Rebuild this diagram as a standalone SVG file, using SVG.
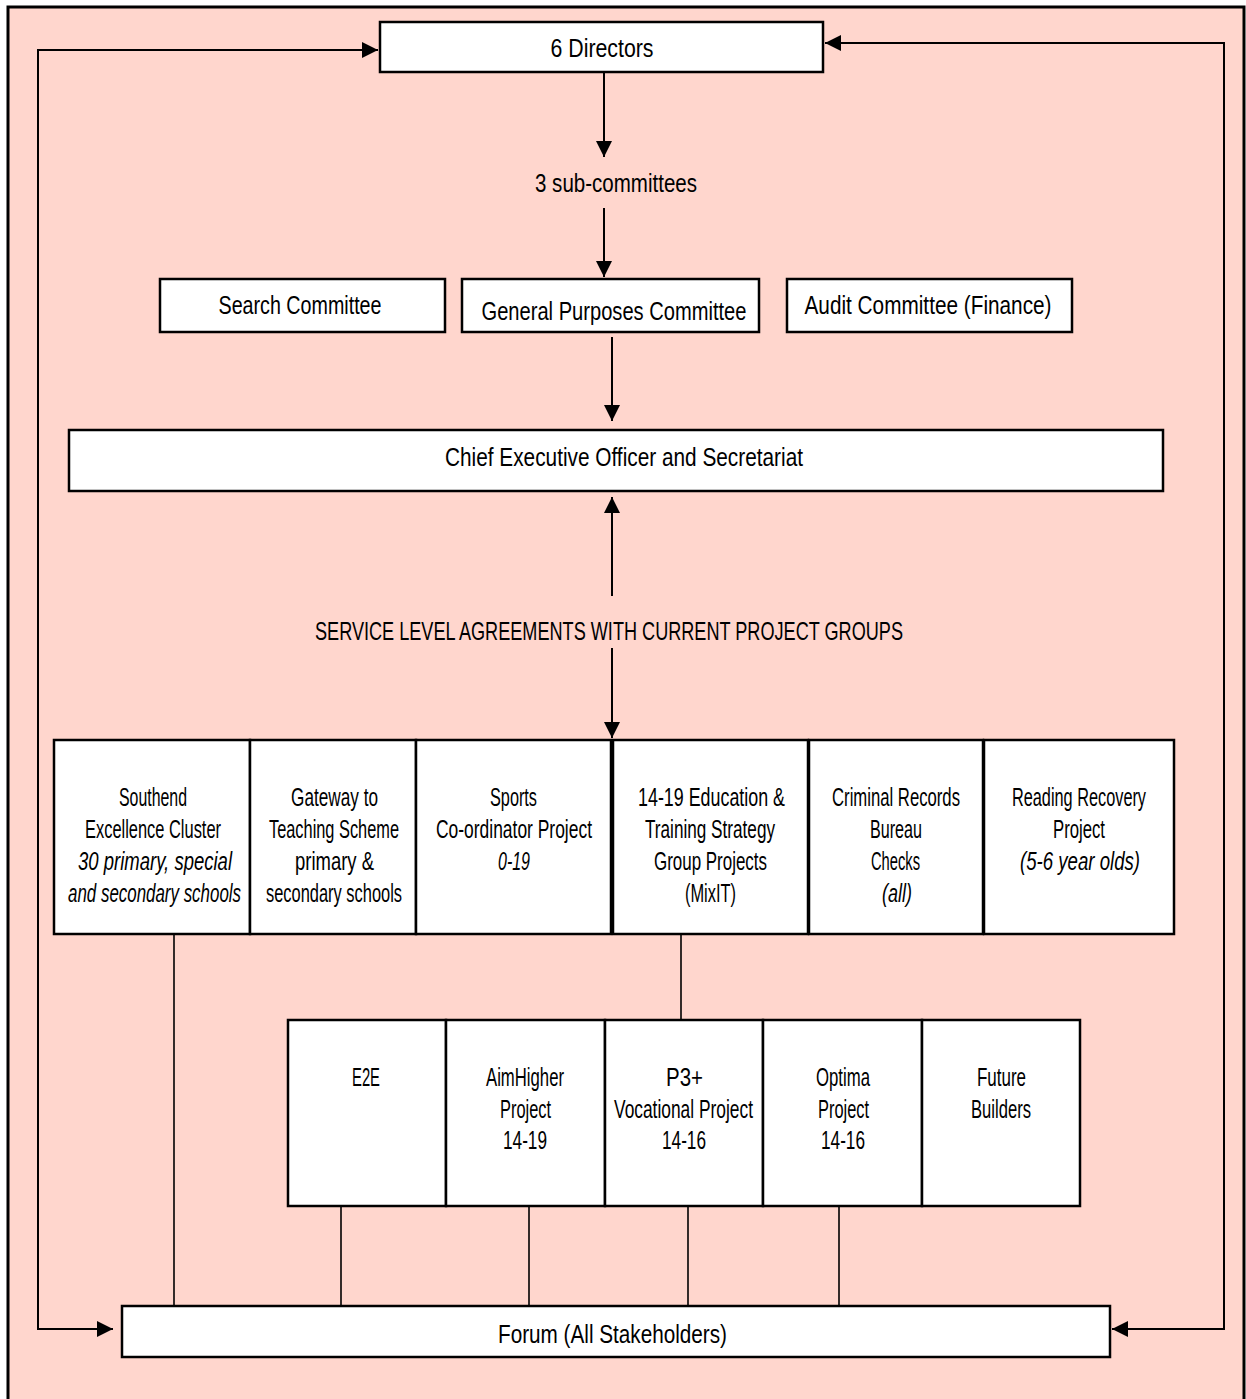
<svg xmlns="http://www.w3.org/2000/svg" width="1246" height="1399" viewBox="0 0 1246 1399">
<style>
.frame{fill:#FFD6CD;stroke:#000;stroke-width:3}
.box{fill:#fff;stroke:#000;stroke-width:2.5}
.cell{fill:#fff;stroke:#000;stroke-width:2.5}
.t{font-family:"Liberation Sans",Arial,sans-serif;font-size:26px;text-anchor:middle;fill:#000}
.i{font-style:italic}
.c{stroke:#000;stroke-width:2;fill:none}
.c2{stroke:#000;stroke-width:1.6;fill:none}
</style>
<defs>
<marker id="ah" markerUnits="userSpaceOnUse" markerWidth="16" markerHeight="16" viewBox="0 0 16 16" refX="16" refY="8" orient="auto">
<path d="M0,0 L16,8 L0,16 Z" fill="#000"/>
</marker>
</defs>
<rect x="0" y="0" width="1246" height="1399" fill="#fff"/>
<rect class="frame" x="8" y="7" width="1236" height="1400"/>

<g id="connectors">
<line class="c" x1="604" y1="72" x2="604" y2="157" marker-end="url(#ah)"/>
<line class="c" x1="604" y1="208" x2="604" y2="277" marker-end="url(#ah)"/>
<line class="c" x1="612" y1="337" x2="612" y2="421" marker-end="url(#ah)"/>
<line class="c" x1="612" y1="596" x2="612" y2="497" marker-end="url(#ah)"/>
<line class="c" x1="612" y1="648" x2="612" y2="738" marker-end="url(#ah)"/>
<polyline class="c" points="113,1329 38,1329 38,50 378,50" marker-end="url(#ah)"/>
<polyline class="c" points="1112,1329 1224,1329 1224,43 825,43" marker-end="url(#ah)"/>
<path d="M97,1321 L113,1329 L97,1337 Z" fill="#000"/>
<path d="M1128,1321 L1112,1329 L1128,1337 Z" fill="#000"/>
<line class="c2" x1="174" y1="934" x2="174" y2="1306"/>
<line class="c2" x1="681" y1="934" x2="681" y2="1020"/>
<line class="c2" x1="341" y1="1206" x2="341" y2="1306"/>
<line class="c2" x1="529" y1="1206" x2="529" y2="1306"/>
<line class="c2" x1="688" y1="1206" x2="688" y2="1306"/>
<line class="c2" x1="839" y1="1206" x2="839" y2="1306"/>
</g>

<g id="directors">
<rect class="box" x="380" y="22" width="443" height="50"/>
<text class="t" x="602" y="57" textLength="103" lengthAdjust="spacingAndGlyphs">6 Directors</text>
</g>

<g id="subcommittees">
<text class="t" x="616" y="192" textLength="162" lengthAdjust="spacingAndGlyphs">3 sub-committees</text>
</g>

<g id="search">
<rect class="box" x="160" y="279" width="285" height="53"/>
<text class="t" x="300" y="314" textLength="163" lengthAdjust="spacingAndGlyphs">Search Committee</text>
</g>

<g id="general">
<rect class="box" x="462" y="279" width="297" height="53"/>
<text class="t" x="614" y="320" textLength="265" lengthAdjust="spacingAndGlyphs">General Purposes Committee</text>
</g>

<g id="audit">
<rect class="box" x="787" y="279" width="285" height="53"/>
<text class="t" x="928" y="314" textLength="247" lengthAdjust="spacingAndGlyphs">Audit Committee (Finance)</text>
</g>

<g id="ceo">
<rect class="box" x="69" y="430" width="1094" height="61"/>
<text class="t" x="624" y="466" textLength="358" lengthAdjust="spacingAndGlyphs">Chief Executive Officer and Secretariat</text>
</g>

<g id="sla">
<text class="t" x="609" y="640" textLength="588" lengthAdjust="spacingAndGlyphs">SERVICE LEVEL AGREEMENTS WITH CURRENT PROJECT GROUPS</text>
</g>

<g id="southend">
<rect class="cell" x="54" y="740" width="196" height="194"/>
<text class="t" transform="translate(153,806) scale(0.68,1)" textLength="100" lengthAdjust="spacingAndGlyphs">Southend</text>
<text class="t" transform="translate(153,838) scale(0.68,1)" textLength="200" lengthAdjust="spacingAndGlyphs">Excellence Cluster</text>
<text class="t i" transform="translate(155,870) scale(0.68,1)" textLength="226.5" lengthAdjust="spacingAndGlyphs">30 primary, special</text>
<text class="t i" transform="translate(154.5,902) scale(0.68,1)" textLength="254.4" lengthAdjust="spacingAndGlyphs">and secondary schools</text>
</g>

<g id="gateway">
<rect class="cell" x="250" y="740" width="166" height="194"/>
<text class="t" transform="translate(334.5,806) scale(0.68,1)" textLength="127.9" lengthAdjust="spacingAndGlyphs">Gateway to</text>
<text class="t" transform="translate(334,838) scale(0.68,1)" textLength="191.2" lengthAdjust="spacingAndGlyphs">Teaching Scheme</text>
<text class="t" transform="translate(334.5,870) scale(0.68,1)" textLength="116.2" lengthAdjust="spacingAndGlyphs">primary &amp;</text>
<text class="t" transform="translate(334,902) scale(0.68,1)" textLength="200" lengthAdjust="spacingAndGlyphs">secondary schools</text>
</g>

<g id="sports">
<rect class="cell" x="416" y="740" width="195" height="194"/>
<text class="t" transform="translate(513.5,806) scale(0.68,1)" textLength="69.1" lengthAdjust="spacingAndGlyphs">Sports</text>
<text class="t" transform="translate(514,838) scale(0.68,1)" textLength="229.4" lengthAdjust="spacingAndGlyphs">Co-ordinator Project</text>
<text class="t i" transform="translate(514,870) scale(0.68,1)" textLength="47.1" lengthAdjust="spacingAndGlyphs">0-19</text>
</g>

<g id="education1419">
<rect class="cell" x="613" y="740" width="195" height="194"/>
<text class="t" transform="translate(711.5,806) scale(0.68,1)" textLength="216.2" lengthAdjust="spacingAndGlyphs">14-19 Education &amp;</text>
<text class="t" transform="translate(710,838) scale(0.68,1)" textLength="191.2" lengthAdjust="spacingAndGlyphs">Training Strategy</text>
<text class="t" transform="translate(710.5,870) scale(0.68,1)" textLength="166.2" lengthAdjust="spacingAndGlyphs">Group Projects</text>
<text class="t" transform="translate(710.5,902) scale(0.68,1)" textLength="75" lengthAdjust="spacingAndGlyphs">(MixIT)</text>
</g>

<g id="criminal">
<rect class="cell" x="809" y="740" width="174" height="194"/>
<text class="t" transform="translate(896,806) scale(0.68,1)" textLength="188.2" lengthAdjust="spacingAndGlyphs">Criminal Records</text>
<text class="t" transform="translate(896,838) scale(0.68,1)" textLength="76.5" lengthAdjust="spacingAndGlyphs">Bureau</text>
<text class="t" transform="translate(895.5,870) scale(0.68,1)" textLength="72.1" lengthAdjust="spacingAndGlyphs">Checks</text>
<text class="t i" transform="translate(897,902) scale(0.68,1)" textLength="44.1" lengthAdjust="spacingAndGlyphs">(all)</text>
</g>

<g id="reading">
<rect class="cell" x="984" y="740" width="190" height="194"/>
<text class="t" transform="translate(1079,806) scale(0.68,1)" textLength="197.1" lengthAdjust="spacingAndGlyphs">Reading Recovery</text>
<text class="t" transform="translate(1079,838) scale(0.68,1)" textLength="76.5" lengthAdjust="spacingAndGlyphs">Project</text>
<text class="t i" transform="translate(1080,870) scale(0.68,1)" textLength="176.5" lengthAdjust="spacingAndGlyphs">(5-6 year olds)</text>
</g>

<g id="e2e">
<rect class="cell" x="288" y="1020" width="158" height="186"/>
<text class="t" transform="translate(366,1086) scale(0.68,1)" textLength="41.2" lengthAdjust="spacingAndGlyphs">E2E</text>
</g>

<g id="aimhigher">
<rect class="cell" x="446" y="1020" width="159" height="186"/>
<text class="t" transform="translate(525,1086) scale(0.68,1)" textLength="114.7" lengthAdjust="spacingAndGlyphs">AimHigher</text>
<text class="t" transform="translate(525.5,1118) scale(0.68,1)" textLength="75" lengthAdjust="spacingAndGlyphs">Project</text>
<text class="t" transform="translate(525,1149) scale(0.68,1)" textLength="64.7" lengthAdjust="spacingAndGlyphs">14-19</text>
</g>

<g id="p3plus">
<rect class="cell" x="605" y="1020" width="158" height="186"/>
<text class="t" transform="translate(684.5,1086) scale(0.68,1)" textLength="54.4" lengthAdjust="spacingAndGlyphs">P3+</text>
<text class="t" transform="translate(683.5,1118) scale(0.68,1)" textLength="204.4" lengthAdjust="spacingAndGlyphs">Vocational Project</text>
<text class="t" transform="translate(684,1149) scale(0.68,1)" textLength="64.7" lengthAdjust="spacingAndGlyphs">14-16</text>
</g>

<g id="optima">
<rect class="cell" x="763" y="1020" width="159" height="186"/>
<text class="t" transform="translate(843,1086) scale(0.68,1)" textLength="79.4" lengthAdjust="spacingAndGlyphs">Optima</text>
<text class="t" transform="translate(843.5,1118) scale(0.68,1)" textLength="75" lengthAdjust="spacingAndGlyphs">Project</text>
<text class="t" transform="translate(843,1149) scale(0.68,1)" textLength="64.7" lengthAdjust="spacingAndGlyphs">14-16</text>
</g>

<g id="futurebuilders">
<rect class="cell" x="922" y="1020" width="158" height="186"/>
<text class="t" transform="translate(1001.5,1086) scale(0.68,1)" textLength="72.1" lengthAdjust="spacingAndGlyphs">Future</text>
<text class="t" transform="translate(1001,1118) scale(0.68,1)" textLength="88.2" lengthAdjust="spacingAndGlyphs">Builders</text>
</g>

<g id="forum">
<rect class="box" x="122" y="1306" width="988" height="51"/>
<text class="t" x="612.5" y="1343" textLength="229" lengthAdjust="spacingAndGlyphs">Forum (All Stakeholders)</text>
</g>
</svg>
